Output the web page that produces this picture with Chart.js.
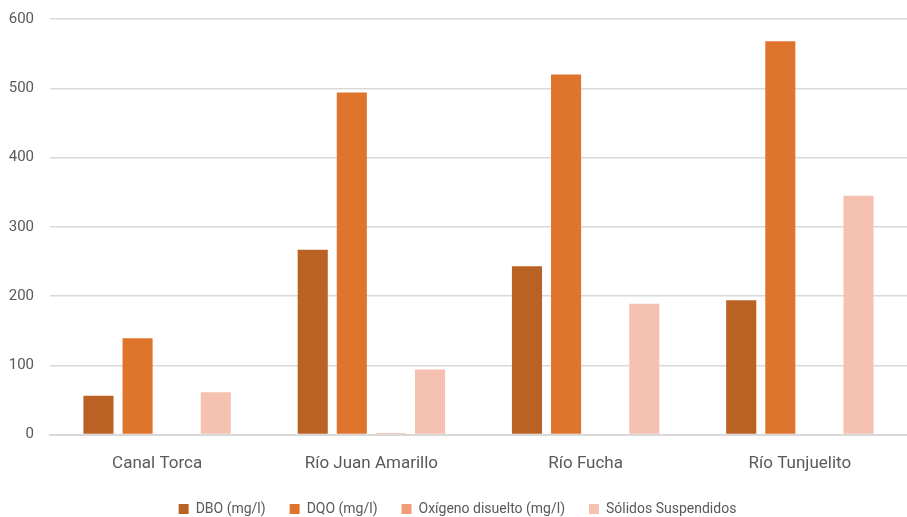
<!DOCTYPE html>
<html>
<head>
<meta charset="utf-8">
<script src="https://cdn.jsdelivr.net/npm/chart.js@4/dist/chart.umd.min.js"></script>
<style>
  html, body { margin: 0; padding: 0; background: #fff; }
  #wrap { width: 907px; height: 517px; }
</style>
</head>
<body>
<div id="wrap"><canvas id="chart"></canvas></div>
<script>
// categorías (ríos) y series
var rios = ["Canal Torca", "Río Juan Amarillo", "Río Fucha", "Río Tunjuelito"];
var dbo = [56, 267, 243, 194];
var dqo = [139, 494, 520, 568];
var oxigeno = [0, 2, 0, 0];
var solidos = [61, 94, 189, 345];
var yTicks = [0, 100, 200, 300, 400, 500, 600];

var fuente = "Roboto, 'Liberation Sans Narrow', sans-serif";
var gris = "#595959";

function serie(label, data, color) {
    return {
        label: label,
        data: data,
        backgroundColor: color,
        borderWidth: 0,
        categoryPercentage: 0.73,
        barPercentage: 0.77
    };
}

var chart = new Chart(document.getElementById("chart").getContext("2d"), {
    type: "bar",
    data: {
        labels: rios,
        datasets: [
            serie("DBO (mg/l)", dbo, "#BA6124"),
            serie("DQO (mg/l)", dqo, "#DF752D"),
            serie("Oxígeno disuelto (mg/l)", oxigeno, "#F19C74"),
            serie("Sólidos Suspendidos", solidos, "#F5C2B2")
        ]
    },
    options: {
        responsive: true,
        maintainAspectRatio: false,
        animation: false,
        layout: { padding: { top: 19, right: 0, left: 8, bottom: -9 } },
        plugins: {
            tooltip: { enabled: false },
            legend: {
                position: "bottom",
                labels: {
                    boxWidth: 10,
                    boxHeight: 10,
                    padding: 24,
                    color: gris,
                    font: { family: fuente, size: 14 }
                }
            }
        },
        scales: {
            x: {
                grid: { display: false },
                border: { color: "#d9d9d9", width: 2 },
                ticks: { color: gris, padding: 11, font: { family: fuente, size: 17 } },
                afterFit: function (axis) { axis.height -= 7; }
            },
            y: {
                min: 0,
                max: 600,
                afterBuildTicks: function (axis) {
                    axis.ticks = yTicks.map(function (v) { return { value: v }; });
                },
                grid: { color: "#d9d9d9", lineWidth: 1.5, drawTicks: false },
                border: { display: false },
                ticks: { color: gris, padding: 16, font: { family: fuente, size: 15 } },
                afterFit: function (axis) {
                    axis.width = 42;
                    axis.paddingTop = 0;
                }
            }
        }
    }
});
</script>
</body>
</html>
